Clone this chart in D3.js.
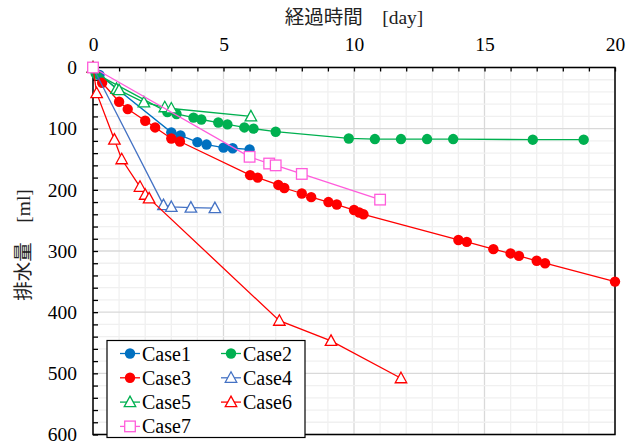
<!DOCTYPE html>
<html>
<head>
<meta charset="utf-8">
<script src="https://cdn.jsdelivr.net/npm/d3@7"></script>
<style>
	body { margin: 0; background: #fff; }
	svg { display: block; }
	svg text { font-family: "Liberation Serif", "Times New Roman", Times, "DejaVu Serif", "Noto Sans CJK JP", serif; }
</style>
</head>
<body>
<svg id="chart" width="639" height="441"></svg>
<script>
// [day, ml] pairs
const case1 = [[0, 0], [0.25, 12], [3.0, 106], [3.35, 111], [4.0, 122], [4.35, 126], [5.0, 131], [5.35, 132], [6.0, 134]];
const case2 = [[0.1, 10], [2.85, 73], [3.2, 76], [3.85, 82], [4.15, 85], [4.8, 90], [5.15, 93], [5.8, 98], [6.15, 100], [7.0, 105],
	[9.8, 116], [10.8, 117], [11.8, 117], [12.8, 117], [13.8, 117], [16.85, 118], [18.8, 118]];
const case3 = [[0.35, 25], [1.0, 56], [1.33, 68], [2.0, 87], [2.38, 98], [3.0, 116], [3.33, 121], [6.02, 176], [6.31, 180],
	[7.1, 192], [7.33, 197], [8.0, 206], [8.36, 212], [9.02, 220], [9.34, 224], [10.0, 233], [10.2, 237], [10.36, 240],
	[14.0, 282], [14.32, 285], [15.34, 297], [16.0, 304], [16.32, 308], [17.0, 316], [17.32, 320], [20.0, 350]];
const case4 = [[0, 0], [2.7, 225], [3.0, 228], [3.75, 229], [4.67, 230]];
const case5 = [[0, 0], [0.9, 35], [1.0, 37], [1.95, 57], [2.75, 65], [3.0, 67], [6.05, 80]];
const case6 = [[0, 0], [0.14, 42], [0.82, 118], [1.1, 150], [1.8, 195], [2.0, 208], [2.15, 214], [7.14, 414], [9.12, 447], [11.8, 508]];
const case7 = [[0, 0], [6.0, 146], [6.75, 157], [7.0, 160], [8.0, 174], [11.0, 216]];

const caseNames = ['Case1', 'Case2', 'Case3', 'Case4', 'Case5', 'Case6', 'Case7'];
const xTicks = [0, 5, 10, 15, 20];
const yTicks = [0, 100, 200, 300, 400, 500, 600];
const xTitle = '経過時間　[day]';
const yTitle = '排水量　[ml]';

const series = [
	{name: caseNames[0], data: case1, color: '#0070C0', shape: 'circle'},
	{name: caseNames[1], data: case2, color: '#00B050', shape: 'circle'},
	{name: caseNames[2], data: case3, color: '#FF0000', shape: 'circle'},
	{name: caseNames[3], data: case4, color: '#4472C4', shape: 'triangle'},
	{name: caseNames[4], data: case5, color: '#00B050', shape: 'triangle'},
	{name: caseNames[5], data: case6, color: '#FF0000', shape: 'triangle'},
	{name: caseNames[6], data: case7, color: '#FF5CDB', shape: 'square'},
];

const svg = d3.select('#chart');
const pLeft = 93, pRight = 615, pTop = 67.5, pBottom = 434.5;

const x = d3.scaleLinear().domain([0, 20]).range([pLeft, pRight]);
const y = d3.scaleLinear().domain([0, 600]).range([pTop, pBottom]);

// grid: minor and major
const grid = svg.append('g');
const minorX = d3.range(0, 21, 1), minorY = d3.range(0, 601, 20);
grid.selectAll('.vgrid').data(minorX).enter().append('line')
	.attr('x1', d => x(d)).attr('x2', d => x(d)).attr('y1', pTop).attr('y2', pBottom)
	.attr('stroke', d => xTicks.includes(d) ? '#D9D9D9' : '#F0F0F0').attr('stroke-width', 1.3);
grid.selectAll('.hgrid').data(minorY).enter().append('line')
	.attr('x1', pLeft).attr('x2', pRight).attr('y1', d => y(d)).attr('y2', d => y(d))
	.attr('stroke', d => yTicks.includes(d) ? '#D9D9D9' : '#F0F0F0').attr('stroke-width', 1.3);

// frame
svg.append('rect')
	.attr('x', pLeft).attr('y', pTop).attr('width', pRight - pLeft).attr('height', pBottom - pTop)
	.attr('fill', 'none').attr('stroke', '#000').attr('stroke-width', 1.5);

// top axis, ticks pointing inside
const xAxisMinor = d3.axisTop(x).tickValues(minorX).tickSize(-4).tickFormat('');
svg.append('g').attr('transform', `translate(0,${pTop})`).call(xAxisMinor)
	.call(g => g.select('.domain').remove())
	.selectAll('line').attr('stroke', '#000').attr('stroke-width', 1.3);
const xAxis = d3.axisTop(x).tickValues(xTicks).tickSize(0).tickPadding(17);
svg.append('g').attr('transform', `translate(0,${pTop})`).call(xAxis)
	.attr('font-family', null)
	.call(g => g.select('.domain').remove())
	.selectAll('text').attr('font-size', 19.5).attr('fill', '#000');

// left axis
const yAxisMinor = d3.axisLeft(y).tickValues(minorY).tickSize(-5).tickFormat('');
svg.append('g').attr('transform', `translate(${pLeft},0)`).call(yAxisMinor)
	.call(g => g.select('.domain').remove())
	.selectAll('line').attr('stroke', '#000').attr('stroke-width', 1.3);
const yAxis = d3.axisLeft(y).tickValues(yTicks).tickSize(0).tickPadding(16);
svg.append('g').attr('transform', `translate(${pLeft},0)`).call(yAxis)
	.attr('font-family', null)
	.call(g => g.select('.domain').remove())
	.selectAll('text').attr('font-size', 19.5).attr('fill', '#000');

// titles
svg.append('text').text(xTitle)
	.attr('x', 354).attr('y', 24).attr('text-anchor', 'middle')
	.attr('font-size', 19.5).attr('fill', '#222');
svg.append('text').text(yTitle)
	.attr('transform', 'translate(30,245) rotate(-90)').attr('text-anchor', 'middle')
	.attr('font-size', 19.5).attr('fill', '#222');

function drawMarker(g, s, cx, cy) {
	if (s.shape === 'circle') {
		g.append('circle').attr('cx', cx).attr('cy', cy).attr('r', 5.2).attr('fill', s.color);
	} else if (s.shape === 'triangle') {
		const h = 10, w = 11.5;
		g.append('path')
			.attr('d', `M${cx},${cy - h * 0.6}L${cx + w / 2},${cy + h * 0.45}L${cx - w / 2},${cy + h * 0.45}Z`)
			.attr('fill', '#fff').attr('stroke', s.color).attr('stroke-width', 1.3);
	} else {
		g.append('rect').attr('x', cx - 5.3).attr('y', cy - 5.3).attr('width', 10.6).attr('height', 10.6)
			.attr('fill', '#fff').attr('stroke', s.color).attr('stroke-width', 1.3);
	}
}

const line = d3.line().x(d => x(d[0])).y(d => y(d[1]));
const plot = svg.append('g');
series.forEach(s => {
	const g = plot.append('g');
	g.append('path').datum(s.data).attr('d', line)
		.attr('fill', 'none').attr('stroke', s.color).attr('stroke-width', 1.3);
	s.data.forEach(d => drawMarker(g, s, x(d[0]), y(d[1])));
});

// legend
const legend = svg.append('g');
legend.append('rect').attr('x', 107).attr('y', 340.5).attr('width', 198).attr('height', 97)
	.attr('fill', '#fff').attr('stroke', '#000').attr('stroke-width', 1.2);
series.forEach((s, i) => {
	const col = i % 2, row = Math.floor(i / 2);
	const cx = 130 + col * 101, cy = 353.5 + row * 24.3;
	legend.append('line').attr('x1', cx - 10).attr('x2', cx + 10).attr('y1', cy).attr('y2', cy)
		.attr('stroke', s.color).attr('stroke-width', 1.3);
	drawMarker(legend, s, cx, cy);
	legend.append('text').text(s.name).attr('x', cx + 12).attr('y', cy).attr('dy', '0.35em')
		.attr('font-size', 20).attr('fill', '#000');
});
</script>
</body>
</html>
